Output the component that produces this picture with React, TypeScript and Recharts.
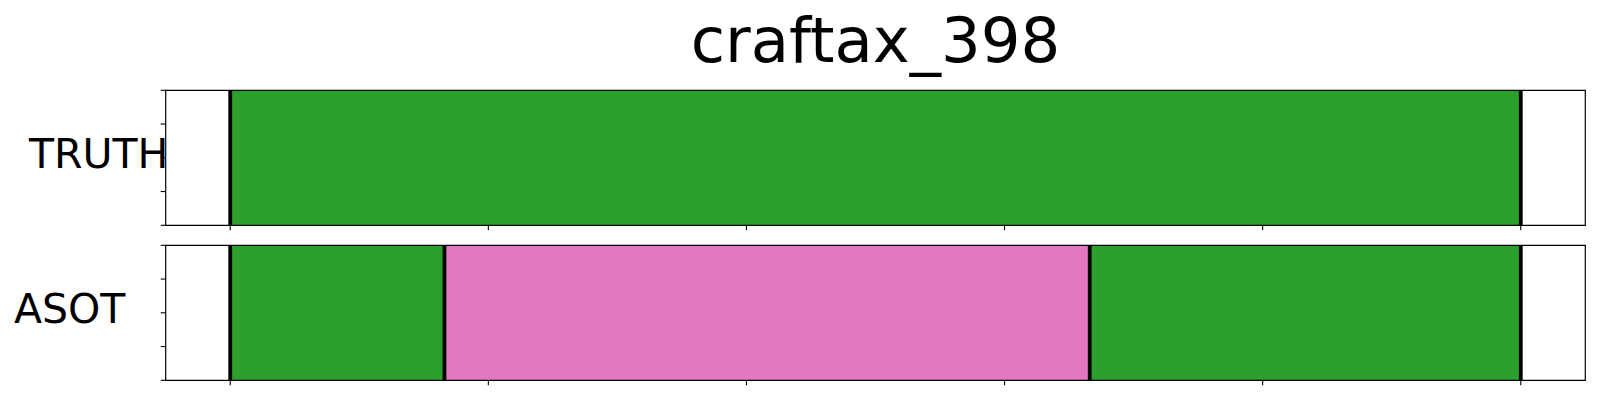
import { Area, ComposedChart, ReferenceArea, ReferenceLine, XAxis, YAxis } from 'recharts';

// Segmentation strip: ground truth vs. ASOT prediction for one episode.
// Frames run 0..500, each row is a band of coloured segments split by black bars.

const TITLE = 'craftax_398';
const X_TICKS = [0, 100, 200, 300, 400, 500];
const Y_TICKS = [0, 0.25, 0.5, 0.75, 1];

const TRUTH_STARTS = [0];
const TRUTH_ENDS = [500];
const TRUTH_COLORS = ['#2ca02c'];

const ASOT_STARTS = [0, 83, 333];
const ASOT_ENDS = [83, 333, 500];
const ASOT_COLORS = ['#2ca02c', '#e377c2', '#2ca02c'];

const X_DOMAIN: [number, number] = [-25, 525];
const W = 1600;
const H = 400;
const AX = 10; // room kept for the (label-less) tick marks
const FONT = '"DejaVu Sans", sans-serif';

// one row per boundary; segment i is "on" (1) only at its own start and end
function buildRows(starts: number[], ends: number[]) {
  const bounds = [...starts, ends[ends.length - 1]];
  return bounds.map((x) => {
    const row: Record<string, number | null> = { x };
    starts.forEach((s, i) => {
      row[`s${i}`] = x === s || x === ends[i] ? 1 : null;
    });
    return row;
  });
}

// tick marks only, no labels (matplotlib with ticklabels switched off)
const NoLabel = () => <g />;

type StripProps = {
  starts: number[];
  ends: number[];
  colors: string[];
  top: number;
  bottom: number;
};

function Axes({ show }: { show: boolean }) {
  const tickLine = show ? { stroke: '#000', strokeWidth: 1.1 } : false;
  return (
    <>
      <XAxis
        dataKey="x"
        type="number"
        domain={X_DOMAIN}
        ticks={X_TICKS}
        allowDataOverflow
        height={AX}
        tickSize={5}
        tick={NoLabel}
        axisLine={false}
        tickLine={tickLine}
      />
      <YAxis
        type="number"
        domain={[0, 1]}
        ticks={Y_TICKS}
        allowDataOverflow
        width={AX}
        tickSize={5}
        tick={NoLabel}
        axisLine={false}
        tickLine={tickLine}
      />
    </>
  );
}

function Strip({ starts, ends, colors, top, bottom }: StripProps) {
  const bounds = [...starts, ends[ends.length - 1]];
  const data = buildRows(starts, ends);
  const margin = { top, left: 165.7 - AX, right: 14.7, bottom: H - bottom - AX };
  const layer = { position: 'absolute' as const, left: 0, top: 0 };
  return (
    <>
      {/* coloured segments */}
      <div style={layer}>
        <ComposedChart width={W} height={H} data={data} margin={margin}>
          {Axes({ show: false })}
          {starts.map((_, i) => (
            <Area
              key={`seg-${i}`}
              dataKey={`s${i}`}
              type="linear"
              fill={colors[i]}
              fillOpacity={1}
              stroke="none"
              dot={false}
              activeDot={false}
              connectNulls={false}
              baseValue={0}
              isAnimationActive={false}
            />
          ))}
        </ComposedChart>
      </div>
      {/* ticks, boundary bars and frame, drawn on top */}
      <div style={layer}>
        <ComposedChart width={W} height={H} data={data} margin={margin}>
          {Axes({ show: true })}
          {starts.map((_, i) => (
            <Area
              key={`ghost-${i}`}
              dataKey={`s${i}`}
              fill="none"
              fillOpacity={0}
              stroke="none"
              dot={false}
              activeDot={false}
              isAnimationActive={false}
            />
          ))}
          {bounds.map((b, i) => (
            <ReferenceLine key={`b-${i}`} x={b} stroke="#000" strokeWidth={3.8} />
          ))}
          <ReferenceArea
            x1={X_DOMAIN[0]}
            x2={X_DOMAIN[1]}
            y1={0}
            y2={1}
            fill="none"
            stroke="#000"
            strokeWidth={1.2}
            strokeOpacity={1}
          />
        </ComposedChart>
      </div>
    </>
  );
}

export default function App() {
  return (
    <div style={{ position: 'absolute', left: 0, top: 0, width: W, height: H, background: '#fff' }}>
      <Strip starts={TRUTH_STARTS} ends={TRUTH_ENDS} colors={TRUTH_COLORS} top={90.3} bottom={225.3} />
      <Strip starts={ASOT_STARTS} ends={ASOT_ENDS} colors={ASOT_COLORS} top={245.3} bottom={380.3} />
      <svg
        width={W}
        height={H}
        style={{ position: 'absolute', left: 0, top: 0, pointerEvents: 'none' }}
      >
        <text x={875.5} y={62.3} textAnchor="middle" fontFamily={FONT} fontSize={62.5} fill="#000">
          {TITLE}
        </text>
        <text x={29} y={168.3} fontFamily={FONT} fontSize={41} fill="#000">
          TRUTH
        </text>
        <text x={14} y={323.3} fontFamily={FONT} fontSize={41} fill="#000">
          ASOT
        </text>
      </svg>
    </div>
  );
}
